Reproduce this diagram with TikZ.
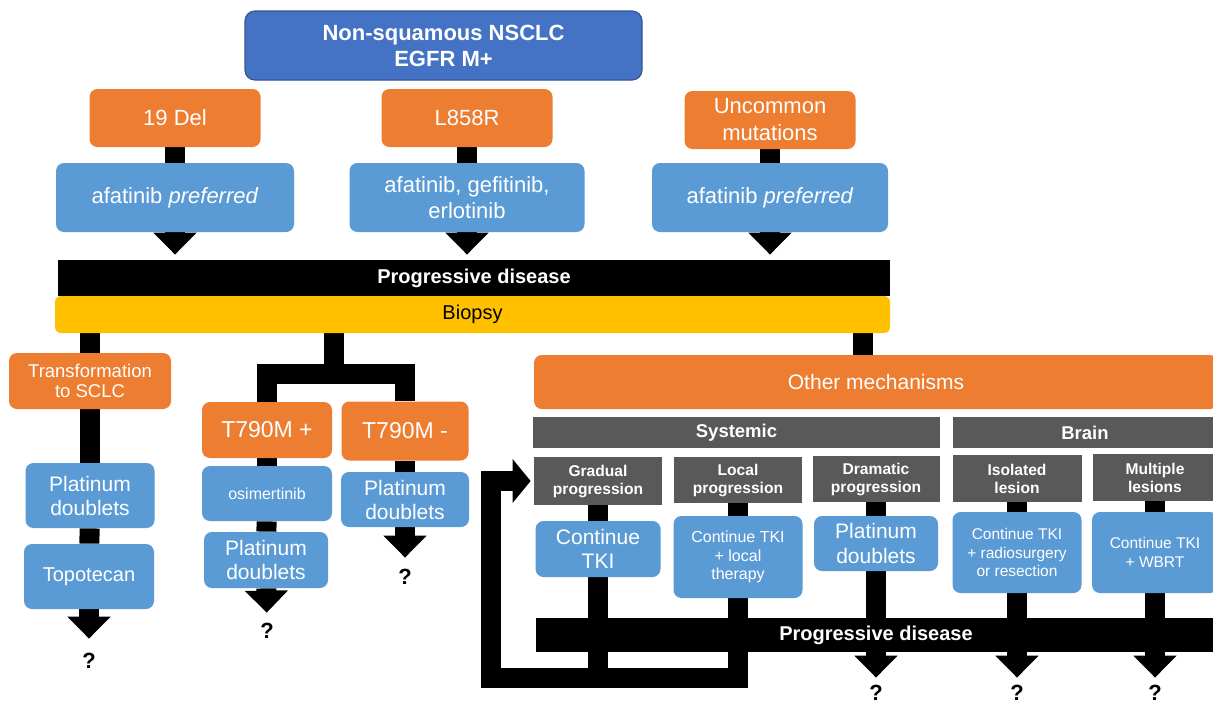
\documentclass[tikz,border=0pt]{standalone}
\usepackage{fontspec}
\setmainfont{Liberation Sans}
\usetikzlibrary{arrows.meta,backgrounds}
\definecolor{nsclcblue}{HTML}{4472C4}
\definecolor{mutorange}{HTML}{ED7D31}
\definecolor{drugblue}{HTML}{5B9BD5}
\definecolor{biopsyyellow}{HTML}{FFC000}
\definecolor{headgrey}{HTML}{595959}
\newcommand{\fsz}[2]{\fontsize{#1}{#2}\selectfont}

\begin{document}
\begin{tikzpicture}
    [x=0.5pt,y=-0.5pt,
     every node/.style={inner sep=0pt,align=center,text=white},
     titlebox/.style={fill=nsclcblue,draw=nsclcblue!75!black,line width=0.6pt,rounded corners=5pt,font=\bfseries\fsz{11}{13}},
     mut/.style={fill=mutorange,rounded corners=4pt},
     drug/.style={fill=drugblue,rounded corners=4pt},
     greyhead/.style={fill=headgrey,font=\bfseries\fsz{7.8}{9}},
     pdbar/.style={fill=black,font=\bfseries\fsz{10}{12}},
     stemline/.style={line width=10pt},
     blockarrow/.style={line width=10pt,-{Triangle[length=11pt,width=21pt]}},
     qmark/.style={text=black,font=\bfseries\fsz{11}{11},text height=8pt,text depth=0pt}]
  \useasboundingbox (0,0) rectangle (1213,702);
  \clip (0,0) rectangle (1213,702);
  % first line of treatment
  \node[titlebox,minimum width=198.5pt,minimum height=34.5pt] (nsclc) at (443.5,45.5) {Non-squamous NSCLC\\EGFR M+};
  \node[mut,minimum width=85.5pt,minimum height=29pt,font=\fsz{11}{13.5}] (del19) at (175,118) {19 Del};
  \node[mut,minimum width=85.5pt,minimum height=29pt,font=\fsz{11}{13.5}] (l858r) at (467,118) {L858R};
  \node[mut,minimum width=85.5pt,minimum height=29pt,font=\fsz{11}{13.5}] (uncommon) at (770,120) {Uncommon\\mutations};
  \node[drug,minimum width=119pt,minimum height=34.5pt,font=\fsz{11}{13}] (afat1) at (175,197.5) {afatinib \textit{preferred}};
  \node[drug,minimum width=117.5pt,minimum height=34.5pt,font=\fsz{11}{13}] (afat2) at (467,197.5) {afatinib, gefitinib,\\erlotinib};
  \node[drug,minimum width=118pt,minimum height=34.5pt,font=\fsz{11}{13}] (afat3) at (770,197.5) {afatinib \textit{preferred}};
  \node[pdbar,minimum width=416pt,minimum height=18pt] (pd1) at (474,278) {Progressive disease};
  \node[fill=biopsyyellow,rounded corners=3pt,text=black,font=\fsz{10}{12},minimum width=417.5pt,minimum height=18.5pt] (biopsy) at (472.5,314.5) {Biopsy};
  % transformation and T790M
  \node[mut,minimum width=81pt,minimum height=28pt,font=\fsz{9.25}{10}] (sclc) at (90,381) {Transformation\\to SCLC};
  \node[drug,minimum width=64.5pt,minimum height=32.5pt,font=\fsz{10.5}{12}] (platA) at (90,495.5) {Platinum\\doublets};
  \node[drug,minimum width=65pt,minimum height=32.5pt,font=\fsz{10}{12}] (topo) at (89,576.5) {Topotecan};
  \node[qmark] (qA) at (89,660) {?};
  \coordinate (fork) at (334,374);
  \node[mut,minimum width=65pt,minimum height=28pt,font=\fsz{11.5}{13}] (tplus) at (267,430) {T790M +};
  \node[mut,minimum width=63.5pt,minimum height=29.5pt,font=\fsz{11.5}{13}] (tminus) at (405,431) {T790M -};
  \node[drug,minimum width=65pt,minimum height=27.5pt,font=\fsz{8}{10}] (osim) at (267,493.5) {osimertinib};
  \node[drug,minimum width=62pt,minimum height=28pt,font=\fsz{10.5}{12}] (platB) at (266,560) {Platinum\\doublets};
  \node[drug,minimum width=64pt,minimum height=27.5pt,font=\fsz{10.5}{12}] (platC) at (405,499.5) {Platinum\\doublets};
  \node[qmark] (qB) at (267,630) {?};
  \node[qmark] (qC) at (405,576) {?};
  % other mechanisms
  \coordinate (biopsyR) at (863,333);
  \node[mut,minimum width=342pt,minimum height=27pt,font=\fsz{10.5}{12}] (other) at (876,382) {Other mechanisms};
  \node[greyhead,minimum width=203.5pt,minimum height=15.5pt,font=\bfseries\fsz{9.25}{11}] (systemic) at (736.5,432.5) {Systemic};
  \node[greyhead,minimum width=132pt,minimum height=15.5pt,font=\bfseries\fsz{9.25}{11}] (brain) at (1085,432.5) {Brain};
  \node[greyhead,minimum width=64pt,minimum height=24pt] (gradual) at (598,481) {Gradual\\progression};
  \node[greyhead,minimum width=64pt,minimum height=23pt] (local) at (738,480) {Local\\progression};
  \node[greyhead,minimum width=63.5pt,minimum height=23pt] (dramatic) at (876,479) {Dramatic\\progression};
  \node[greyhead,minimum width=64.5pt,minimum height=23.5pt] (isolated) at (1017,478.5) {Isolated\\lesion};
  \node[greyhead,minimum width=62pt,minimum height=23.5pt] (multiple) at (1155,477.5) {Multiple\\lesions};
  \node[drug,minimum width=62.5pt,minimum height=28pt,font=\fsz{10.5}{12}] (contA) at (598,549) {Continue\\TKI};
  \node[drug,minimum width=64.5pt,minimum height=41pt,font=\fsz{8}{9.25}] (contB) at (738,557) {Continue TKI\\+ local\\therapy};
  \node[drug,minimum width=62pt,minimum height=27.5pt,font=\fsz{10.5}{12.25}] (platD) at (876,543.5) {Platinum\\doublets};
  \node[drug,minimum width=64.5pt,minimum height=40.5pt,font=\fsz{7.75}{9.2}] (contC) at (1017,552.5) {Continue TKI\\+ radiosurgery\\or resection};
  \node[drug,minimum width=63pt,minimum height=40.5pt,font=\fsz{7.75}{9.2}] (contD) at (1155,552.5) {Continue TKI\\+ WBRT};
  \node[pdbar,minimum width=340pt,minimum height=17pt] (pd2) at (876,635) {Progressive disease};
  \node[qmark] (qD) at (876,692) {?};
  \node[qmark] (qE) at (1017,692) {?};
  \node[qmark] (qF) at (1155,692) {?};
  \coordinate (loopcorner) at (491,677.5);
  \begin{scope}[on background layer]
    \fill[white] (0,0) rectangle (1213,702);
    \draw[stemline] (del19) -- (afat1);
    \draw[stemline] (l858r) -- (afat2);
    \draw[stemline] (uncommon) -- (afat3);
    \draw[blockarrow,shorten >=2.5pt] (afat1) -- (afat1 |- pd1.north);
    \draw[blockarrow,shorten >=2.5pt] (afat2) -- (afat2 |- pd1.north);
    \draw[blockarrow,shorten >=2.5pt] (afat3) -- (afat3 |- pd1.north);
    \draw[stemline] (sclc |- biopsy.south) -- (sclc);
    \draw[stemline] (sclc) -- (platA);
    \draw[stemline] (platA) -- (topo);
    \draw[blockarrow,shorten >=6.5pt] (topo) -- (qA);
    \draw[stemline] (fork |- biopsy.south) -- (fork);
    \draw[stemline] (tplus) |- (fork) -| (tminus);
    \draw[stemline] (tplus) -- (osim);
    \draw[stemline] (osim) -- (platB);
    \draw[blockarrow,shorten >=4.5pt] (platB) -- (qB);
    \draw[stemline] (tminus) -- (platC);
    \draw[blockarrow,shorten >=5pt] (platC) -- (qC);
    \draw[stemline] (biopsyR) -- (biopsyR |- other.north);
    \draw[stemline] (gradual) -- (contA);
    \draw[stemline] (local) -- (contB);
    \draw[stemline] (dramatic) -- (platD);
    \draw[stemline] (isolated) -- (contC);
    \draw[stemline] (multiple) -- (contD);
    \draw[stemline] (contA) -- (contA |- loopcorner);
    \draw[stemline,-{Triangle[length=9pt,width=21.5pt]},shorten >=1.5pt] (contB) |- (loopcorner) |- (gradual);
    \draw[blockarrow,shorten >=3pt] (platD) -- (qD);
    \draw[blockarrow,shorten >=3pt] (contC) -- (qE);
    \draw[blockarrow,shorten >=3pt] (contD) -- (qF);
  \end{scope}
\end{tikzpicture}
\end{document}
